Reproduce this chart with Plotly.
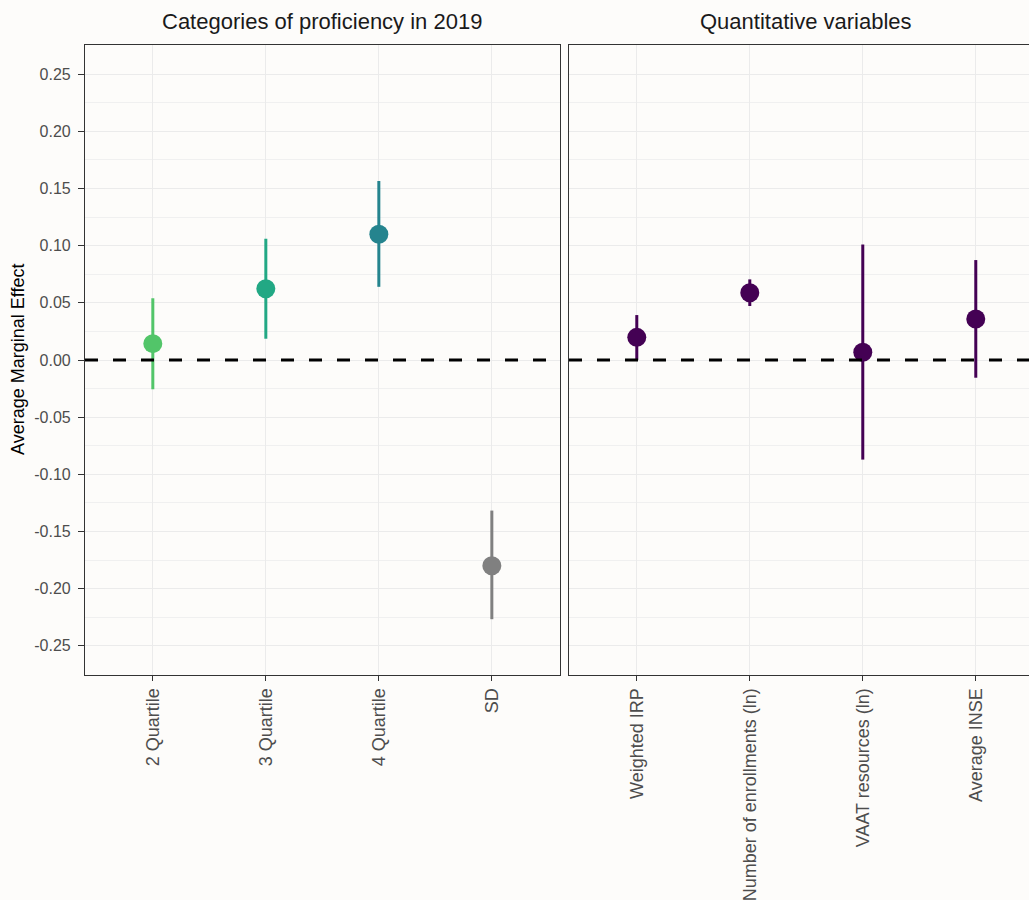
import plotly.graph_objects as go

# ---- data ----
left_categories = ["2 Quartile", "3 Quartile", "4 Quartile", "SD"]
left_estimate = [0.0143, 0.0623, 0.1100, -0.1800]
left_lower = [-0.0256, 0.0186, 0.0640, -0.2267]
left_upper = [0.0540, 0.1060, 0.1565, -0.1317]
left_colors = ["#52c569", "#22a884", "#25848e", "#808080"]

right_categories = ["Weighted IRP", "Number of enrollments (ln)", "VAAT resources (ln)", "Average INSE"]
right_estimate = [0.0198, 0.0589, 0.0067, 0.0358]
right_lower = [0.0000, 0.0472, -0.0871, -0.0155]
right_upper = [0.0393, 0.0705, 0.1010, 0.0874]
right_color = "#440154"

y_tickvals = [0.25, 0.20, 0.15, 0.10, 0.05, 0.00, -0.05, -0.10, -0.15, -0.20, -0.25]
y_ticktext = ["0.25", "0.20", "0.15", "0.10", "0.05", "0.00", "-0.05", "-0.10", "-0.15", "-0.20", "-0.25"]

panel_titles = ["Categories of proficiency in 2019", "Quantitative variables"]
y_title = "Average Marginal Effect"

FONT = "Liberation Sans, Arial, sans-serif"
BG = "#fdfcfa"
GRID = "#ebebeb"
MINOR = "#f0f0f0"

fig = go.Figure()

for cat, est, lo, hi, col in zip(left_categories, left_estimate, left_lower, left_upper, left_colors):
    fig.add_trace(go.Scatter(
        x=[cat], y=[est], mode="markers", xaxis="x", yaxis="y",
        marker=dict(size=19, color=col),
        error_y=dict(type="data", symmetric=False, array=[hi - est], arrayminus=[est - lo],
                     thickness=3, width=0, color=col),
        showlegend=False, hoverinfo="x+y"))

for cat, est, lo, hi in zip(right_categories, right_estimate, right_lower, right_upper):
    fig.add_trace(go.Scatter(
        x=[cat], y=[est], mode="markers", xaxis="x2", yaxis="y2",
        marker=dict(size=19, color=right_color),
        error_y=dict(type="data", symmetric=False, array=[hi - est], arrayminus=[est - lo],
                     thickness=3, width=0, color=right_color),
        showlegend=False, hoverinfo="x+y"))

for xr, yr in (("x domain", "y"), ("x2 domain", "y2")):
    fig.add_shape(type="line", xref=xr, yref=yr, x0=0, x1=1, y0=0, y1=0,
                  line=dict(color="black", width=3, dash="13px,15px"), layer="above")

xcommon = dict(type="category", showgrid=True, gridcolor=GRID, gridwidth=1.4,
               showline=True, mirror=True, linecolor="#333333", linewidth=1.1,
               ticks="outside", ticklen=5, tickcolor="#333333", tickwidth=1.1,
               tickangle=-90, zeroline=False,
               tickfont=dict(family=FONT, size=18, color="#4d4d4d"))
ycommon = dict(range=[-0.2755, 0.2755], tickmode="array", tickvals=y_tickvals,
               showgrid=True, gridcolor=GRID, gridwidth=1.4, zeroline=False,
               showline=True, linecolor="#333333", linewidth=1.1,
               minor=dict(tickmode="linear", tick0=0, dtick=0.025, showgrid=True,
                          gridcolor=MINOR, gridwidth=0.9))

fig.update_layout(
    width=1029, height=900,
    margin=dict(l=85, r=0, t=45, b=225, pad=0),
    paper_bgcolor=BG, plot_bgcolor=BG,
    font=dict(family=FONT, color="#1a1a1a"),
    xaxis=dict(xcommon, domain=[0, 0.5028], range=[-0.6, 3.6], anchor="y",
               categoryorder="array", categoryarray=left_categories),
    xaxis2=dict(xcommon, domain=[0.5127, 1], range=[-0.6, 3.471], anchor="y2",
                categoryorder="array", categoryarray=right_categories),
    yaxis=dict(ycommon, anchor="x", mirror=True, ticktext=y_ticktext,
               ticks="outside", ticklen=6, tickcolor="#333333", tickwidth=1.1,
               ticklabelstandoff=4,
               tickfont=dict(family=FONT, size=16, color="#4d4d4d")),
    yaxis2=dict(ycommon, anchor="x2", matches="y", mirror=False, showticklabels=False, ticks=""),
    annotations=[
        dict(text=panel_titles[0], xref="paper", yref="paper", x=(322 - 85) / 944, y=(675 - 22) / 630,
             xanchor="center", yanchor="middle", showarrow=False,
             font=dict(family=FONT, size=22, color="#1a1a1a")),
        dict(text=panel_titles[1], xref="paper", yref="paper", x=(806 - 85) / 944, y=(675 - 22) / 630,
             xanchor="center", yanchor="middle", showarrow=False,
             font=dict(family=FONT, size=22, color="#1a1a1a")),
        dict(text=y_title, xref="paper", yref="paper", x=(18 - 85) / 944, y=0.5,
             xanchor="center", yanchor="middle", textangle=-90, showarrow=False,
             font=dict(family=FONT, size=18, color="#000000")),
    ],
)

fig.write_html(
    "out.html",
    config={"displayModeBar": False},
    post_script="document.body.style.margin='0';document.body.style.background='#fdfcfa';document.body.style.overflow='hidden';",
)
